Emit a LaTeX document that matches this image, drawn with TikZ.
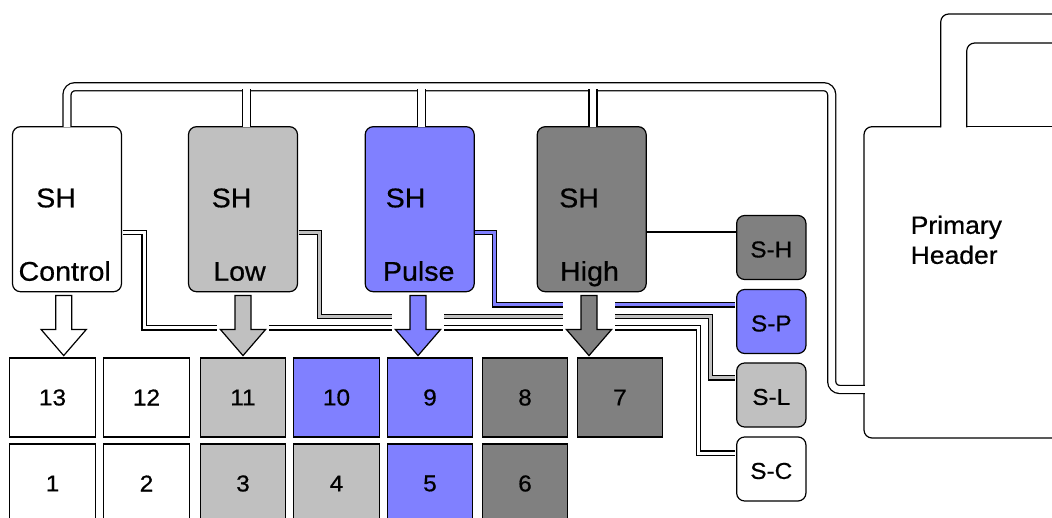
\documentclass[tikz,border=0pt]{standalone}
\usepackage{fontspec}
\setmainfont{Liberation Sans}[FakeStretch=1.06, FakeBold=0.6]
\definecolor{lowgray}{HTML}{C0C0C0}
\definecolor{pulseblue}{HTML}{8080FF}
\definecolor{highgray}{HTML}{808080}
\begin{document}
\begin{tikzpicture}[x=1pt, y=-1pt,
  shbox/.style={draw=black, line width=1.2pt, rounded corners=8pt,
    minimum width=109pt, minimum height=165pt, inner sep=0pt},
  sbox/.style={draw=black, line width=1.2pt, rounded corners=8pt,
    minimum width=69.3pt, minimum height=64pt, inner sep=0pt},
  stext/.style={inner sep=0pt, font=\fontsize{23}{27}\selectfont},
  cell/.style={draw=black, line width=1.2pt, minimum width=85.5pt,
    minimum height=79pt, inner sep=0pt, font=\fontsize{23}{27}\selectfont},
  shtext/.style={inner sep=0pt, font=\fontsize{27}{32}\selectfont},
  outline/.style={line width=1.2pt, draw=black},
  bus/.style={draw=black, line width=1.3pt, double=white,
    double distance=6.7pt, rounded corners=8pt},
  pipe/.style={draw=black, line width=1.2pt, double distance=3pt},
  blockarrow/.style={draw=black, line width=1.2pt, line join=miter},
]
\useasboundingbox (0,0) rectangle (1052,518);
\clip (0,0) rectangle (1052,518);
\fill[white] (0,0) rectangle (1052,518);

% Primary header with its feed going up and off to the right
\draw[outline, rounded corners=8pt] (1060,14) -- (940.7,14) -- (940.7,127.3);
\draw[outline, rounded corners=8pt] (940.7,126.7) -- (864,126.7) -- (864,438) -- (1060,438);
\draw[outline, rounded corners=8pt] (1060,43) -- (966.7,43) -- (966.7,127.3);
\draw[outline] (966.7,126.7) -- (1060,126.7);
\node[anchor=north west, align=left, inner sep=0pt,
      font=\fontsize{25}{30}\selectfont] (hdr) at (910.5,215.5) {Primary\\Header};
\coordinate (hdrin) at (864.8,389.5);

% secondary header boxes
\node[shbox, fill=white]     (ctl) at (67,209.2)    {};
\node[shbox, fill=lowgray]   (low) at (243,209.2)   {};
\node[shbox, fill=pulseblue] (pul) at (419.7,209.2) {};
\node[shbox, fill=highgray]  (hig) at (591.7,209.2) {};

\node[shtext, anchor=base west] (ctlsh) at (36,207.3)    {SH};
\node[shtext, anchor=base west] (lowsh) at (211.5,207.3) {SH};
\node[shtext, anchor=base west] (pulsh) at (385.5,207.3) {SH};
\node[shtext, anchor=base west] (higsh) at (559,207.3)   {SH};
\node[shtext, anchor=base] (ctllab) at (64.7,280.7)  {Control};
\node[shtext, anchor=base] (lowlab) at (239.5,280.7) {Low};
\node[shtext, anchor=base] (pullab) at (418.7,280.7) {Pulse};
\node[shtext, anchor=base] (higlab) at (589.5,280.7) {High};

% small boxes on the right
\node[sbox, fill=highgray]  (sh) at (771.3,247.5) {};
\node[sbox, fill=pulseblue] (sp) at (771.3,321.5) {};
\node[sbox, fill=lowgray]   (sl) at (771.3,395)   {};
\node[sbox, fill=white]     (sc) at (771.3,469)   {};
\foreach \b/\t in {sh/S-H, sp/S-P, sl/S-L, sc/S-C}
  \node[stext] (\b txt) at ([yshift=-2pt]\b.center) {\t};

% numbered cells
\foreach \num/\xx/\col in {13/52.5/white, 12/146.5/white, 11/243/lowgray,
    10/336.5/pulseblue, 9/430/pulseblue, 8/525/highgray, 7/620/highgray}
  \node[cell, fill=\col] (c\num) at (\xx,397.5) {\num};
\foreach \num/\xx/\col in {1/52.5/white, 2/146.5/white, 3/243/lowgray,
    4/336.5/lowgray, 5/430/pulseblue, 6/525/highgray}
  \node[cell, fill=\col] (c\num) at (\xx,483.5) {\num};

% links from each SH box to its small box
\draw[pipe, double=white] ([xshift=0.6pt,yshift=-23.1pt]ctl.east) -| (144,328)
  -| (698.5,453) -- ([xshift=-0.6pt,yshift=16pt]sc.west);
\draw[pipe, double=lowgray] ([xshift=0.6pt,yshift=-23.1pt]low.east) -| (319.7,316.5)
  -| (710.5,378) -- ([xshift=-0.6pt,yshift=17pt]sl.west);
\draw[pipe, double=pulseblue] ([xshift=0.6pt,yshift=-23.1pt]pul.east) -| (494.2,305)
  -- ([xshift=-0.6pt,yshift=16.5pt]sp.west);
\draw[line width=2pt] ([yshift=-23.1pt]hig.east) -- ([yshift=15.2pt]sh.west);

% common bus from the SH boxes to the primary header
\draw[bus] ([yshift=-0.7pt]ctl.north) |- (831.7,86.7) |- (hdrin);
\draw[bus] ([xshift=3.3pt,yshift=-0.7pt]low.north) -- ++(0,-37.35);
\draw[bus] ([xshift=1.6pt,yshift=-0.7pt]pul.north) -- ++(0,-37.35);
\draw[bus] ([xshift=1.3pt,yshift=-0.7pt]hig.north) -- ++(0,-37.35);

% block arrows down to the cells
\foreach \n/\dx/\col in {ctl/-3.3/white, low/0/lowgray, pul/-1.7/pulseblue, hig/-2.7/highgray} {
  \coordinate (\n arr) at ([xshift=\dx pt]\n.south);
  \fill[white] ([xshift=-26pt,yshift=-8.3pt]\n arr) rectangle ([xshift=26pt,yshift=-53.3pt]\n arr);
  \draw[blockarrow, fill=\col] ([yshift=-3.3pt]\n arr) ++(-8,0) -- ++(16,0) -- ++(0,34)
    -- ++(14.5,0) -- ++(-22.5,26) -- ++(-22.5,-26) -- ++(14.5,0) -- cycle;
}
\end{tikzpicture}
\end{document}
